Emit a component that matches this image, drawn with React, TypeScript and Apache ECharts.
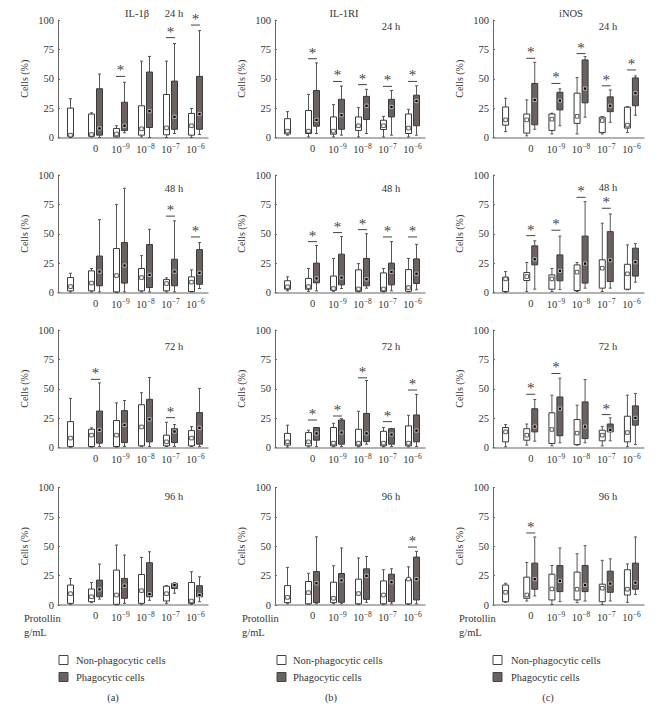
import React, { useEffect, useRef } from 'react';
import * as echarts from 'echarts';

const categories = ['', '0', '10^-9', '10^-8', '10^-7', '10^-6'];
const yTicks = [0, 25, 50, 75, 100];
const markerNames = ['IL-1β', 'IL-1RI', 'iNOS'];
const timeLabels = ['24 h', '48 h', '72 h', '96 h'];
const legendLabels = ['Non-phagocytic cells', 'Phagocytic cells'];
const captions = ['(a)', '(b)', '(c)'];
const xAxisTitle = ['Protollin', 'g/mL'];
const yAxisTitle = 'Cells (%)';

// box values: [min, q1, q3, max, marker]; non-phagocytic: control,0,1e-9..1e-6 ; phagocytic: 0,1e-9..1e-6
const il1b24Non = [[0, 1, 25, 33, 2], [0.5, 1, 20, 21, 2.5], [0.5, 0.5, 7.7, 10, 3], [0.5, 2, 27, 65, 7.4], [0, 2.3, 36.6, 65, 8.2], [0, 2, 20.5, 24.7, 10]];
const il1b24Pha = [[0, 2, 41.5, 54, 7.7], [4, 6, 30, 47, 10], [0, 8.5, 55.7, 69, 22.4], [3.4, 7, 48, 80, 17.6], [2.5, 7, 52, 91, 20]];
const il1b24Sig = [null, null, 52, null, 85, 95.7];

const il1ri24Non = [[2, 3, 16, 22, 5.4], [0.5, 3.4, 23, 36.7, 5.4], [0.5, 2.8, 17.5, 28, 5.4], [0.5, 6, 17.5, 25.4, 10], [0.5, 6.8, 14.7, 18, 10], [0.5, 3.4, 20, 24, 8]];
const il1ri24Pha = [[3.4, 9.6, 40, 63.5, 15], [2, 7, 32.5, 43.8, 19], [3.4, 15.3, 35, 41, 27], [2, 17.5, 32.5, 40, 26], [2, 10, 36, 44, 31]];
const il1ri24Sig = [null, 67, 47.7, 45, 43.5, 47.7];

const inos24Non = [[5, 10.5, 26, 33.4, 15], [1.4, 3.7, 20, 32, 15], [3, 6, 20, 20.7, 15.6], [3, 12, 37.7, 51, 18], [3, 4.2, 17.3, 17.8, 14.4], [4.2, 8, 25.8, 26.3, 10.5]];
const inos24Pha = [[7, 10.8, 46, 64, 32], [10, 23.5, 38.5, 41.4, 31.4], [17.3, 29.5, 66, 68.8, 41.6], [13, 22, 34.6, 40.5, 27], [19, 27, 50.7, 52.4, 37.7]];
const inos24Sig = [null, 67.4, 46, 71.4, 44, 57.5];

const il1b48Non = [[0.5, 1.4, 12.7, 16.4, 5], [0.5, 1.4, 18.4, 20.4, 8], [0, 0.5, 37.4, 75, 14.4], [0.5, 1.4, 20.4, 31.4, 12.7], [0.5, 1.4, 11, 12.5, 7.6], [0.5, 0.8, 13.3, 19.3, 8.8]];
const il1b48Pha = [[0.5, 5.7, 31, 62, 17.8], [0.5, 8, 42.5, 88.7, 23], [0.5, 4.2, 40.8, 53.8, 15], [0.5, 5.7, 28.3, 61, 17.8], [3.4, 7, 36.5, 42.5, 16.7]];
const il1b48Sig = [null, null, null, null, 65, 47.3];

const il1ri48Non = [[1.4, 2.8, 10, 13.3, 4.8], [1, 2.8, 12, 20.4, 5], [1, 2, 14, 29, 3.4], [0.5, 1, 19.3, 24.6, 3], [0.5, 1, 16.7, 20.4, 3], [0.5, 1, 19.5, 29, 4.2]];
const il1ri48Pha = [[1.4, 8.2, 25, 40, 12], [3.4, 6.5, 32.6, 47.6, 12.7], [3.7, 5.7, 29, 50, 11.3], [1.4, 6.5, 25, 43.3, 17.6], [2.3, 7.6, 28.6, 41, 16]];
const il1ri48Sig = [null, 43.3, 51, 53.5, 47.3, 47.3];

const inos48Non = [[0.3, 0.8, 13, 17.8, 11.6], [0.8, 10.2, 17, 25.5, 13.6], [0.8, 2.8, 15, 20.4, 11.6], [0.8, 1.7, 23.5, 25.5, 17.3], [0.8, 3.7, 27.8, 59, 20.7], [2.3, 2.8, 24, 40.5, 15.9]];
const inos48Pha = [[2.8, 23.5, 39.7, 44, 28.3], [2.5, 10, 32, 48, 18.4], [3.7, 8, 48, 77.3, 24.6], [3.7, 9.3, 51.8, 66.8, 27.5], [8.8, 14, 37.7, 41.6, 25.8]];
const inos48Sig = [null, 48.4, 53, 81, 71.7, null];

const il1b72Non = [[0.3, 0.8, 22, 41.8, 8], [0.3, 0.8, 15.5, 16.7, 10.5], [0.3, 0.8, 23, 38, 10.5], [0.8, 1.4, 36.4, 46.6, 17.5], [0.8, 1.4, 10.5, 21.5, 4.8], [0.8, 1.4, 14.4, 17.8, 8]];
const il1b72Pha = [[0.8, 3.7, 31, 55, 15], [0.8, 4.2, 31.4, 40, 19.2], [0.8, 4.8, 41, 59.6, 24], [0.8, 4.2, 16, 19.5, 13.6], [0.8, 2.8, 29.7, 50.3, 16.7]];
const il1b72Sig = [null, 58, null, null, 25.4, null];

const il1ri72Non = [[0.3, 2, 12, 19, 4.8], [0.5, 1.4, 12.7, 14.7, 4.8], [0.5, 1.4, 17, 20.6, 3.7], [0.5, 1.4, 15.5, 30.8, 3.7], [0.5, 1.4, 13.8, 17, 3.7], [0.5, 1.4, 18.4, 27.4, 3.7]];
const il1ri72Pha = [[0.8, 6.2, 17, 17, 12], [0.8, 2.8, 23.4, 24.6, 12.7], [2.8, 5, 29, 57, 12], [0.8, 2.8, 16, 16, 11], [0.8, 4.8, 27.7, 45.2, 14.4]];
const il1ri72Sig = [null, 23.4, 26.8, 59.3, 22, 48.9];

const inos72Non = [[0.6, 4.8, 17, 19.5, 13.3], [2, 6.2, 16, 20, 10.5], [1.4, 3.4, 29.5, 44.5, 15.3], [2, 2.5, 23.8, 36, 12.2], [1.4, 5.7, 14.7, 18, 10.5], [0.6, 4.8, 26.6, 44.5, 12.7]];
const inos72Pha = [[5.4, 13.3, 33, 40.8, 17.8], [4, 10, 43, 59, 33], [4, 7.6, 38.8, 57.8, 17.8], [5.7, 13.3, 20, 25.2, 15], [2.5, 19, 35.4, 46, 25.2]];
const inos72Sig = [null, 45.3, 63, null, 28, null];

const il1b96Non = [[0.6, 1.4, 17, 22.6, 9.6], [2, 2.8, 13.6, 19.2, 7], [0, 0.6, 29.7, 51, 8.5], [0.6, 1.4, 26, 40.5, 12.2], [1.4, 3.4, 16, 16.4, 9.6], [0.6, 1.4, 19.2, 28.3, 3.4]];
const il1b96Pha = [[5, 7, 21.2, 34.8, 13.3], [1.4, 5.7, 22.6, 42.5, 16.4], [4, 7, 36, 45.3, 9.3], [10, 14, 18.4, 19, 17], [2.8, 7, 16.4, 24, 8.5]];
const il1b96Sig = [null, null, null, null, null, null];

const il1ri96Non = [[1, 2, 16.5, 32, 6.5], [0.5, 1, 20, 27, 10.5], [1, 2, 19.4, 33.4, 5.7], [0.5, 1, 22, 40, 9.7], [0.5, 1, 20.5, 30, 8.5], [0.5, 1, 22, 32.5, 22]];
const il1ri96Pha = [[1, 2, 28.5, 58, 18.5], [1, 2.3, 26.8, 48.5, 21], [2.3, 4.8, 30.8, 41.3, 24.8], [1, 2.8, 26.2, 30.8, 19.4], [1, 4.3, 40.8, 45.6, 22]];
const il1ri96Sig = [null, null, null, null, null, 49.3];

const inos96Non = [[2.3, 2.8, 17, 18.5, 10.8], [3.4, 5.7, 23.7, 36.2, 8.5], [0.5, 4.3, 26.2, 33.6, 13.7], [2, 4.3, 28, 43.6, 13.4], [0.5, 2.8, 17.7, 38, 14.3], [2.3, 8.5, 30, 35, 13.4]];
const inos96Pha = [[7.7, 13.4, 35.6, 57.9, 22], [2.8, 11.4, 33.6, 48.5, 20.5], [3.4, 11.4, 33.6, 50.5, 17], [3.4, 10.8, 28.8, 39.3, 18.2], [9, 13.4, 35.6, 57.9, 19]];
const inos96Sig = [null, 61.3, null, null, null, null];

const panels = [
  [il1b24Non, il1b24Pha, il1b24Sig], [il1ri24Non, il1ri24Pha, il1ri24Sig], [inos24Non, inos24Pha, inos24Sig],
  [il1b48Non, il1b48Pha, il1b48Sig], [il1ri48Non, il1ri48Pha, il1ri48Sig], [inos48Non, inos48Pha, inos48Sig],
  [il1b72Non, il1b72Pha, il1b72Sig], [il1ri72Non, il1ri72Pha, il1ri72Sig], [inos72Non, inos72Pha, inos72Sig],
  [il1b96Non, il1b96Pha, il1b96Sig], [il1ri96Non, il1ri96Pha, il1ri96Sig], [inos96Non, inos96Pha, inos96Sig],
];

// layout (style)
const FONT = "'Liberation Serif', 'DejaVu Serif', serif";
const colLeft = [58, 275, 493];
const colWidth = [150, 150, 151];
const rowTop = [20, 175, 330, 487.5];
const rowHeight = 117.5;
const GREY = '#6b625f';
const EDGE = '#3a3a3a';
const WHISKER = '#555';
const INK = '#333';

function boxRenderer(offset: number, dark: boolean) {
  return (params: any, api: any) => {
    const idx = api.value(0);
    const off = idx === 0 ? 0 : offset;
    const cx = api.coord([idx, 0])[0] + off;
    const yMin = api.coord([idx, api.value(1)])[1];
    const yQ1 = api.coord([idx, api.value(2)])[1];
    const yQ3 = api.coord([idx, api.value(3)])[1];
    const yMax = api.coord([idx, api.value(4)])[1];
    const yMk = api.coord([idx, api.value(5)])[1];
    const w = 6;
    const ls = { stroke: WHISKER, lineWidth: 1 };
    const children: any[] = [
      { type: 'line', shape: { x1: cx, y1: yMax, x2: cx, y2: yQ3 }, style: ls },
      { type: 'line', shape: { x1: cx, y1: yQ1, x2: cx, y2: yMin }, style: ls },
      { type: 'line', shape: { x1: cx - 1.5, y1: yMax, x2: cx + 1.5, y2: yMax }, style: ls },
      { type: 'line', shape: { x1: cx - 1.5, y1: yMin, x2: cx + 1.5, y2: yMin }, style: ls },
      {
        type: 'rect',
        shape: { x: cx - w / 2, y: yQ3, width: w, height: Math.max(yQ1 - yQ3, 0.5) },
        style: { fill: dark ? GREY : '#fff', stroke: EDGE, lineWidth: 1 },
      },
      dark
        ? { type: 'rect', shape: { x: cx - 1.6, y: yMk - 1.6, width: 3.2, height: 3.2 }, style: { fill: '#000', stroke: '#e8e8e8', lineWidth: 0.7 } }
        : { type: 'rect', shape: { x: cx - 1.8, y: yMk - 1.8, width: 3.6, height: 3.6 }, style: { fill: '#fff', stroke: '#333', lineWidth: 0.8 } },
    ];
    return { type: 'group', children };
  };
}

function starRenderer(params: any, api: any) {
  const idx = api.value(0);
  const p = api.coord([idx, api.value(1)]);
  return {
    type: 'group',
    children: [
      { type: 'line', shape: { x1: p[0] - 4.5, y1: p[1], x2: p[0] + 4.5, y2: p[1] }, style: { stroke: '#444', lineWidth: 1 } },
      { type: 'text', x: p[0], y: p[1] + 1.5, style: { text: '*', font: `15px ${FONT}`, fill: '#444', align: 'center', verticalAlign: 'bottom' } },
    ],
  };
}

function buildOption() {
  const grid: any[] = [];
  const xAxis: any[] = [];
  const yAxis: any[] = [];
  const series: any[] = [];
  const graphic: any[] = [];

  panels.forEach((pn, i) => {
    const r = Math.floor(i / 3);
    const c = i % 3;
    grid.push({ left: colLeft[c], top: rowTop[r], width: colWidth[c], height: rowHeight });
    xAxis.push({
      gridIndex: i,
      type: 'category',
      data: categories,
      axisLine: { lineStyle: { color: '#999', width: 1.5 } },
      axisTick: { show: false },
      axisLabel: {
        interval: 0,
        margin: 5,
        color: INK,
        fontSize: 10,
        fontFamily: FONT,
        formatter: (v: string) => (v.startsWith('10^') ? `{b|10}{s|${v.slice(3).replace('-', '−')}}` : `{b|${v}}`),
        rich: {
          b: { fontSize: 10.5, fontFamily: FONT, color: INK },
          s: { fontSize: 7.5, fontFamily: FONT, color: INK, padding: [0, 0, 6, 0] },
        },
      },
    });
    yAxis.push({
      gridIndex: i,
      type: 'value',
      min: yTicks[0],
      max: yTicks[yTicks.length - 1],
      interval: yTicks[1] - yTicks[0],
      splitLine: { show: false },
      axisLine: { show: true, lineStyle: { color: '#666', width: 1 } },
      axisTick: { show: true, inside: true, length: 2, lineStyle: { color: '#666' } },
      axisLabel: { color: INK, fontSize: 10.5, fontFamily: FONT, margin: 4 },
      name: yAxisTitle,
      nameLocation: 'middle',
      nameGap: 29,
      nameTextStyle: { color: INK, fontSize: 10, fontFamily: FONT },
    });
    const [non, pha, sig] = pn as any;
    series.push({
      type: 'custom',
      xAxisIndex: i,
      yAxisIndex: i,
      itemStyle: { color: EDGE },
      renderItem: boxRenderer(-4, false),
      encode: { x: 0, y: [1, 2, 3, 4, 5] },
      data: non.map((b: number[], k: number) => [k, ...b]),
    });
    series.push({
      type: 'custom',
      xAxisIndex: i,
      yAxisIndex: i,
      itemStyle: { color: EDGE },
      renderItem: boxRenderer(4, true),
      encode: { x: 0, y: [1, 2, 3, 4, 5] },
      data: pha.map((b: number[], k: number) => [k + 1, ...b]),
    });
    series.push({
      type: 'custom',
      xAxisIndex: i,
      yAxisIndex: i,
      itemStyle: { color: '#444' },
      renderItem: starRenderer,
      encode: { x: 0, y: 1 },
      data: sig.map((v: number | null, k: number) => (v == null ? null : [k, v])).filter((d: any) => d),
    });
  });

  const txt = (text: string, x: number, y: number, size: number, align = 'center') => ({
    type: 'text',
    x,
    y,
    style: { text, font: `${size}px ${FONT}`, fill: INK, align, verticalAlign: 'middle' },
  });

  graphic.push(txt(markerNames[0], 137, 13, 10.5));
  graphic.push(txt(markerNames[1], 344, 13, 10.5));
  graphic.push(txt(markerNames[2], 571, 13, 10.5));
  const timeX = [174, 391, 608];
  const timeY = [
    [13, 26, 26],
    [188, 188, 187],
    [346, 346, 346],
    [496, 496, 496],
  ];
  timeLabels.forEach((t, r) => {
    timeX.forEach((x, c) => graphic.push(txt(t, x, timeY[r][c], 10.5)));
  });
  const protX = [24, 242, 459];
  protX.forEach((x) => {
    graphic.push(txt(xAxisTitle[0], x, 618, 10.5, 'left'));
    graphic.push(txt(xAxisTitle[1], x, 632, 10.5, 'left'));
  });
  const sqX = [59, 277, 493];
  const lgTextX = [76, 293, 511];
  const capX = [113, 331, 548];
  sqX.forEach((x, c) => {
    graphic.push({ type: 'rect', shape: { x, y: 655.5, width: 9, height: 9 }, style: { fill: '#fff', stroke: '#444', lineWidth: 1 } });
    graphic.push({ type: 'rect', shape: { x, y: 672.5, width: 9, height: 9 }, style: { fill: GREY, stroke: '#444', lineWidth: 1 } });
    graphic.push(txt(legendLabels[0], lgTextX[c], 660, 10.5, 'left'));
    graphic.push(txt(legendLabels[1], lgTextX[c], 677, 10.5, 'left'));
    graphic.push(txt(captions[c], capX[c], 697, 10.5));
  });

  return { animation: false, backgroundColor: '#fff', color: ['#444'], grid, xAxis, yAxis, series, graphic };
}

export default function App() {
  const ref = useRef<HTMLDivElement>(null);
  useEffect(() => {
    if (!ref.current) return;
    const chart = echarts.init(ref.current, undefined, { renderer: 'svg' });
    chart.setOption(buildOption() as any);
    return () => chart.dispose();
  }, []);
  return <div ref={ref} style={{ position: 'absolute', left: 0, top: 0, width: 659, height: 707, background: '#fff' }} />;
}
